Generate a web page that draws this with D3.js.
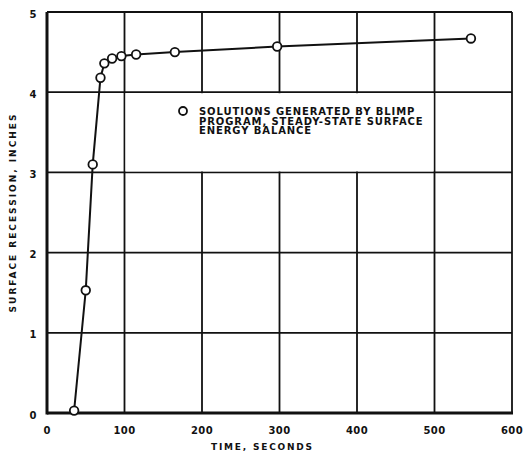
<!DOCTYPE html>
<html>
<head>
<meta charset="utf-8">
<script src="https://cdn.jsdelivr.net/npm/d3@7"></script>
<style>
  body { margin: 0; background: #fff; }
  text { font-family: "DejaVu Sans", sans-serif; font-weight: bold; fill: #111; }
</style>
</head>
<body>
<div id="chart"></div>
<script>
// time in seconds, surface recession in inches
var times = [35, 50, 59, 69, 74, 84, 96, 115, 165, 297, 547];
var recession = [0.03, 1.53, 3.10, 4.18, 4.36, 4.42, 4.45, 4.47, 4.50, 4.57, 4.67];
var xTicks = [0, 100, 200, 300, 400, 500, 600];
var yTicks = [0, 1, 2, 3, 4, 5];
var legendLines = ["SOLUTIONS GENERATED BY BLIMP", "PROGRAM, STEADY-STATE SURFACE", "ENERGY BALANCE"];

var margin = { top: 12, right: 14, bottom: 40, left: 47 },
    width = 526 - margin.left - margin.right,
    height = 453 - margin.top - margin.bottom;

var svg = d3.select("#chart").append("svg")
    .attr("width", 526)
    .attr("height", 453)
    .append("g")
    .attr("transform", "translate(" + margin.left + "," + margin.top + ")");

var x = d3.scaleLinear().domain([0, 600]).range([0, width]);
var y = d3.scaleLinear().domain([0, 5]).range([height, 0]);

// grid
svg.selectAll(".vgrid")
    .data(xTicks.slice(1, -1))
    .enter().append("line")
    .attr("x1", function (d) { return x(d); })
    .attr("x2", function (d) { return x(d); })
    .attr("y1", 0)
    .attr("y2", height)
    .style("stroke", "#111")
    .style("stroke-width", 1.8);

svg.selectAll(".hgrid")
    .data(yTicks.slice(1, -1))
    .enter().append("line")
    .attr("x1", 0)
    .attr("x2", width)
    .attr("y1", function (d) { return y(d); })
    .attr("y2", function (d) { return y(d); })
    .style("stroke", "#111")
    .style("stroke-width", 1.8);

// legend cell: grid is blanked between 100-500 s and 3-4 in
svg.append("rect")
    .attr("x", x(100) + 1)
    .attr("y", y(4) + 1)
    .attr("width", x(500) - x(100) - 2)
    .attr("height", y(3) - y(4) - 2)
    .style("fill", "#fff");

// frame
svg.append("line").attr("x1", 0).attr("x2", width).attr("y1", 0).attr("y2", 0)
    .style("stroke", "#111").style("stroke-width", 1.8);
svg.append("line").attr("x1", width).attr("x2", width).attr("y1", 0).attr("y2", height)
    .style("stroke", "#111").style("stroke-width", 1.8);
svg.append("line").attr("x1", 0).attr("x2", 0).attr("y1", 0).attr("y2", height + 1.5)
    .style("stroke", "#111").style("stroke-width", 3);
svg.append("line").attr("x1", 0).attr("x2", width + 1).attr("y1", height).attr("y2", height)
    .style("stroke", "#111").style("stroke-width", 3);

// tick labels
svg.selectAll(".xlab")
    .data(xTicks)
    .enter().append("text")
    .attr("x", function (d) { return x(d); })
    .attr("y", height + 21)
    .attr("text-anchor", "middle")
    .style("font-size", "10px")
    .style("letter-spacing", "0.3px")
    .text(function (d) { return d; });

svg.selectAll(".ylab")
    .data(yTicks)
    .enter().append("text")
    .attr("x", -14)
    .attr("y", function (d) { return y(d) + 5.5; })
    .attr("text-anchor", "middle")
    .style("font-size", "10px")
    .text(function (d) { return d; });

// axis titles
svg.append("text")
    .attr("x", x(278))
    .attr("y", height + 37)
    .attr("text-anchor", "middle")
    .style("font-size", "9px")
    .style("letter-spacing", "1.8px")
    .text("TIME, SECONDS");

svg.append("text")
    .attr("transform", "translate(-31," + y(2.5) + ") rotate(-90)")
    .attr("text-anchor", "middle")
    .style("font-size", "9px")
    .style("letter-spacing", "2px")
    .text("SURFACE RECESSION, INCHES");

// curve
var line = d3.line()
    .x(function (d, i) { return x(times[i]); })
    .y(function (d) { return y(d); });

svg.append("path")
    .datum(recession)
    .attr("d", line)
    .style("fill", "none")
    .style("stroke", "#111")
    .style("stroke-width", 2);

svg.selectAll(".dot")
    .data(recession)
    .enter().append("circle")
    .attr("cx", function (d, i) { return x(times[i]); })
    .attr("cy", function (d) { return y(d); })
    .attr("r", 4.3)
    .style("fill", "#fff")
    .style("stroke", "#111")
    .style("stroke-width", 1.8);

// legend
var legend = svg.append("g")
    .attr("transform", "translate(" + (183 - margin.left) + "," + (111 - margin.top) + ")");

legend.append("circle")
    .attr("cx", 0).attr("cy", 0).attr("r", 4)
    .style("fill", "#fff")
    .style("stroke", "#111")
    .style("stroke-width", 1.8);

legend.append("text")
    .attr("y", 4)
    .style("font-size", "10px")
    .style("letter-spacing", "0.9px")
    .selectAll("tspan")
    .data(legendLines)
    .enter().append("tspan")
    .attr("x", 16)
    .attr("dy", function (d, i) { return i === 0 ? 0 : 9.5; })
    .text(function (d) { return d; });
</script>
</body>
</html>
